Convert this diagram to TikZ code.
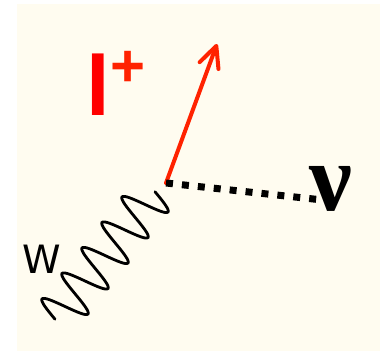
\documentclass[tikz,border=0pt]{standalone}
\usepackage{fontspec}
\setmainfont{DejaVu Sans}
\newfontfamily\nufont{Liberation Serif}
\newfontfamily\lepfont{Liberation Sans}
\usetikzlibrary{positioning,calc,arrows.meta}
\definecolor{bgcream}{HTML}{FFFCF0}
\definecolor{lepred}{HTML}{FF0000}
\definecolor{leporange}{HTML}{FF2200}

\begin{document}
\begin{tikzpicture}[x=1pt,y=-1pt,
    wline/.style={line width=2.8pt,line cap=round},
    lepline/.style={line width=4pt,leporange,line cap=round,-{Straight Barb[length=21pt,width=20pt,round]}},
    nuline/.style={line width=7pt,dash pattern=on 7pt off 9pt}]
  \useasboundingbox (0,0) rectangle (380,351);
  \fill[bgcream] (17,4) rectangle (380,351);
  % vertex and line ends
  \coordinate (vtx) at (166,183);
  \coordinate (lhead) at (217,44);
  \coordinate (nuend) at (318,199.5);
  % lepton, neutrino
  \draw[lepline] (vtx) -- (lhead);
  \draw[nuline] (vtx) -- (nuend);
  % W: five periods of a sine, axis (-20,25.5) per period
  \draw[wline] plot[domain=-0.25:4.75,samples=161,smooth]
    ({150-20*\x+18*cos(360*\x)},{198.1+25.5*\x+13.9*cos(360*\x)});
  % labels
  \node[inner sep=0,anchor=base west,text=lepred,font=\fontsize{85}{85}\lepfont\bfseries] (lep) at (86,115) {l};
  \node[inner sep=0,text=leporange,font=\fontsize{60}{60}\lepfont\bfseries] (lepsign) at (128,68.5) {+};
  \node[inner sep=0,font=\fontsize{96}{96}\nufont\bfseries] (nu) at (331,189) {ν};
  \node[inner sep=0,font=\fontsize{39}{39}\selectfont] (wlab) at (41.5,259) {W};
\end{tikzpicture}
\end{document}
